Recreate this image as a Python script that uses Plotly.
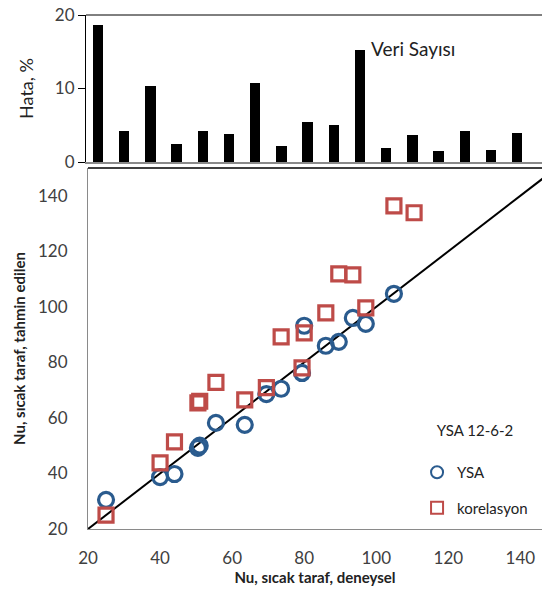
import plotly.graph_objects as go

# ---- data ----
bar_idx = list(range(1, 18))
hata = [18.7, 4.2, 10.3, 2.45, 4.2, 3.8, 10.7, 2.2, 5.4, 5.1, 15.3, 1.9, 3.7, 1.45, 4.2, 1.6, 3.9]

exp_x = [25, 40, 44, 50.5, 51, 55.5, 63.5, 69.5, 73.6, 79.4, 80, 86, 89.6, 93.5, 97.1, 104.9, 110.5]
ysa_x = exp_x[:16]
ysa_y = [30.5, 38.7, 39.8, 49.2, 50.0, 58.2, 57.5, 68.6, 70.5, 76.2, 93.2, 86.0, 87.4, 96.0, 93.9, 104.7]
kor_x = exp_x
kor_y = [25.0, 43.8, 51.4, 65.4, 66.0, 72.8, 66.5, 70.9, 89.2, 78.0, 90.6, 97.8, 111.9, 111.5, 99.6, 136.4, 133.9]
diag = [20, 150]

top_ticks = [0, 10, 20]
main_ticks = [20, 40, 60, 80, 100, 120, 140]

FONT = "Lato"
TXT = "#404040"
BLUE = "#2A5B8E"
RED = "#BE4B48"

fig = go.Figure()

fig.add_trace(go.Bar(x=bar_idx, y=hata, width=0.4, marker=dict(color="black", line=dict(width=0)),
                     xaxis="x", yaxis="y", showlegend=False))

fig.add_trace(go.Scatter(x=diag, y=diag, mode="lines", line=dict(color="black", width=2),
                         xaxis="x2", yaxis="y2", showlegend=False, hoverinfo="skip"))

fig.add_trace(go.Scatter(x=ysa_x, y=ysa_y, mode="markers", name="YSA", legendgroup="a",
                         marker=dict(symbol="circle-open", size=15, color=BLUE, line=dict(width=3.2, color=BLUE)),
                         xaxis="x2", yaxis="y2"))
fig.add_trace(go.Scatter(x=kor_x, y=kor_y, mode="markers", name="korelasyon", legendgroup="b",
                         marker=dict(symbol="square-open", size=14, color=RED, line=dict(width=3.2, color=RED)),
                         xaxis="x2", yaxis="y2"))

fig.update_layout(
    width=542, height=592,
    margin=dict(l=86, r=0, t=15, b=63, autoexpand=False),
    paper_bgcolor="white", plot_bgcolor="white",
    font=dict(family=FONT, size=16, color=TXT),
    bargap=0,
    xaxis=dict(domain=[0, 1], range=[0.54, 17.95], showticklabels=False, ticks="",
               showline=True, linecolor="#8a8a8a", linewidth=2, showgrid=False, zeroline=False,
               anchor="y", automargin=False),
    yaxis=dict(domain=[0.714, 1], range=[0, 20], tickvals=top_ticks, ticks="outside", ticklen=7,
               tickcolor="black", showline=True, linecolor="black", linewidth=1, showgrid=False,
               zeroline=False, anchor="x", automargin=False, ticklabeloverflow="allow",
               tickfont=dict(size=17, color=TXT),
               title=dict(text="Hata, %", font=dict(size=18, color="#222"), standoff=16)),
    xaxis2=dict(domain=[0.0044, 1], range=[20, 146], tickvals=main_ticks, ticks="",
                ticklabelstandoff=14, showline=True, linecolor="#8a8a8a", linewidth=1,
                showgrid=False, zeroline=False, anchor="y2", automargin=False, ticklabeloverflow="allow",
                tickfont=dict(size=17, color=TXT),
                title=dict(text="<b>Nu, sıcak taraf, deneysel</b>", font=dict(size=15, color="#222"), standoff=4)),
    yaxis2=dict(domain=[0, 0.7023], range=[20, 150], tickvals=main_ticks, ticks="",
                ticklabelstandoff=16, showline=True, linecolor="#8a8a8a", linewidth=1,
                showgrid=False, zeroline=False, anchor="x2", automargin=False,
                tickfont=dict(size=17, color=TXT),
                title=dict(text="<b>Nu, sıcak taraf, tahmin edilen</b>", font=dict(size=15, color="#222"), standoff=8)),
    legend=dict(x=0.726, y=0.218, xanchor="left", yanchor="top", bgcolor="rgba(0,0,0,0)",
                font=dict(size=15, color="#222"), tracegroupgap=13, itemsizing="constant",
                title=dict(text="YSA 12-6-2<br><span style='font-size:8px'> </span>", side="top center",
                           font=dict(size=15, color="#222"))),
    shapes=[
        dict(type="line", xref="x domain", yref="y domain", x0=0, x1=1, y0=1, y1=1,
             line=dict(color="black", width=1)),
        dict(type="line", xref="x2 domain", yref="y2 domain", x0=0, x1=1, y0=1, y1=1,
             line=dict(color="black", width=1.5)),
    ],
    annotations=[
        dict(text="Veri Sayısı", xref="x domain", yref="y domain", x=0.621, y=0.77,
             xanchor="left", yanchor="middle", showarrow=False, font=dict(size=19, color="#222")),
    ],
)

fig.write_html("out.html", config={"displayModeBar": False},
               post_script="document.body.style.margin='0';document.body.style.overflow='hidden';")
